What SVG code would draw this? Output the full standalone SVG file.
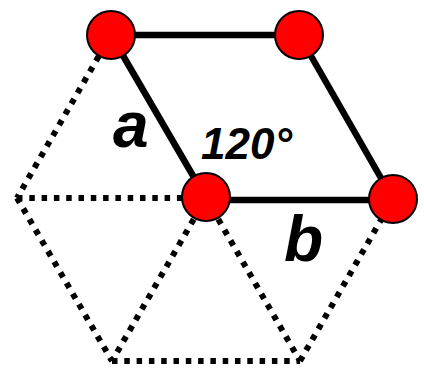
<svg xmlns="http://www.w3.org/2000/svg" width="424" height="375" viewBox="0 0 424 375">
<style>
.solid{stroke:#000;stroke-width:6.5;fill:none;stroke-linecap:butt}
.dot{stroke:#000;stroke-width:6;fill:none;stroke-dasharray:5.5 6.8}
.node{fill:#ff0000;stroke:#000;stroke-width:2}
.lbl{font-family:"Liberation Sans",Arial,sans-serif;font-weight:bold;font-style:italic;fill:#000}
</style>
<rect width="424" height="375" fill="#fff"/>
<g id="connectors">
<line class="dot" x1="111" y1="35" x2="17" y2="198"/>
<line class="dot" x1="17" y1="198" x2="206" y2="198"/>
<line class="dot" x1="17" y1="198" x2="112" y2="361"/>
<line class="dot" x1="112" y1="361" x2="300" y2="361"/>
<line class="dot" x1="300" y1="361" x2="393" y2="199"/>
<line class="dot" x1="206" y1="198" x2="112" y2="361"/>
<line class="dot" x1="206" y1="198" x2="300" y2="361"/>
<line class="solid" x1="111" y1="35" x2="299" y2="35"/>
<line class="solid" x1="111" y1="35" x2="206" y2="198"/>
<line class="solid" x1="299" y1="35" x2="393" y2="199"/>
<line class="solid" x1="206" y1="200" x2="393" y2="200"/>
</g>
<g id="n1"><circle class="node" cx="111" cy="35" r="24"/></g>
<g id="n2"><circle class="node" cx="299" cy="35" r="24"/></g>
<g id="n3"><circle class="node" cx="206" cy="197" r="24"/></g>
<g id="n4"><circle class="node" cx="393" cy="199" r="24"/></g>
<g id="labels">
<text class="lbl" x="113" y="147" font-size="64">a</text>
<text class="lbl" x="201" y="159" font-size="44">120°</text>
<text class="lbl" x="284" y="261" font-size="64">b</text>
</g>
</svg>
